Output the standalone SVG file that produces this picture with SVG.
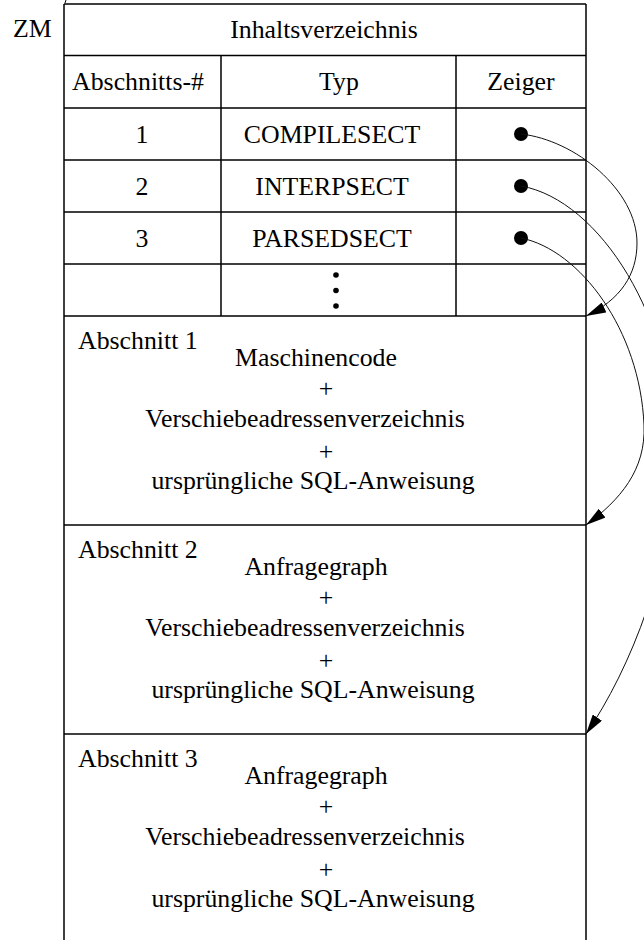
<svg xmlns="http://www.w3.org/2000/svg" width="644" height="940" viewBox="0 0 644 940">
  <style>
    .t { font-family: "Liberation Serif", "Times New Roman", serif; font-size: 25.8px; fill: #000; }
    .m { text-anchor: middle; }
    .ln { stroke: #000; stroke-width: 1.5; fill: none; }
    .cv { stroke: #111; stroke-width: 1; fill: none; marker-end: url(#ah); }
  </style>
  <defs>
    <marker id="ah" markerUnits="userSpaceOnUse" markerWidth="20" markerHeight="11" refX="20" refY="5.5" orient="auto">
      <path d="M0,0 L20,5.5 L0,11 z" fill="#000"/>
    </marker>
  </defs>
  <rect width="644" height="940" fill="#fff"/>

  <text class="t" x="13" y="37">ZM</text>
  <path d="M66,0 L65,3" stroke="#000" stroke-width="1"/>

  <g id="table">
    <path class="ln" d="M64,4 H586 M64,55.5 H586 M64,108 H586 M64,160 H586 M64,212 H586 M64,264 H586 M64,316 H586 M64,4 V940 M586,4 V940 M221,55.5 V316 M456,55.5 V316"/>
    <text class="t m" x="324" y="38">Inhaltsverzeichnis</text>
    <text class="t m" x="138" y="90">Abschnitts-#</text>
    <text class="t m" x="339" y="90">Typ</text>
    <text class="t m" x="521" y="90">Zeiger</text>
  </g>

  <g id="row1">
    <text class="t m" x="142" y="142.5">1</text>
    <text class="t m" x="332" y="142.5">COMPILESECT</text>
    <circle cx="521" cy="134" r="7" fill="#000"/>
  </g>
  <g id="row2">
    <text class="t m" x="142" y="194.5">2</text>
    <text class="t m" x="332" y="194.5">INTERPSECT</text>
    <circle cx="521" cy="186" r="7" fill="#000"/>
  </g>
  <g id="row3">
    <text class="t m" x="142" y="246.5">3</text>
    <text class="t m" x="332" y="246.5">PARSEDSECT</text>
    <circle cx="521" cy="238" r="7" fill="#000"/>
  </g>
  <g id="rowdots">
    <circle cx="336" cy="275" r="2.8" fill="#000"/>
    <circle cx="336" cy="290.5" r="2.8" fill="#000"/>
    <circle cx="336" cy="306" r="2.8" fill="#000"/>
  </g>

  <g id="abschnitt1">
    <path class="ln" d="M64,525 H586"/>
    <text class="t" x="78" y="349">Abschnitt 1</text>
    <text class="t m" x="316" y="366">Maschinencode</text>
    <text class="t m" x="326" y="397">+</text>
    <text class="t m" x="305" y="427">Verschiebeadressenverzeichnis</text>
    <text class="t m" x="326" y="460">+</text>
    <text class="t m" x="313" y="489">ursprüngliche SQL-Anweisung</text>
  </g>
  <g id="abschnitt2">
    <path class="ln" d="M64,734 H586"/>
    <text class="t" x="78" y="558">Abschnitt 2</text>
    <text class="t m" x="316" y="575">Anfragegraph</text>
    <text class="t m" x="326" y="606">+</text>
    <text class="t m" x="305" y="636">Verschiebeadressenverzeichnis</text>
    <text class="t m" x="326" y="669">+</text>
    <text class="t m" x="313" y="698">ursprüngliche SQL-Anweisung</text>
  </g>
  <g id="abschnitt3">
    <text class="t" x="78" y="767">Abschnitt 3</text>
    <text class="t m" x="316" y="784">Anfragegraph</text>
    <text class="t m" x="326" y="815">+</text>
    <text class="t m" x="305" y="845">Verschiebeadressenverzeichnis</text>
    <text class="t m" x="326" y="878">+</text>
    <text class="t m" x="313" y="907">ursprüngliche SQL-Anweisung</text>
  </g>

  <g id="connectors">
    <path class="cv" d="M521,134 C575,140 637,190 637,243 C637,275 620,300 586,316"/>
    <path class="cv" d="M521,186 C600,200 675,320 675,450 C675,560 630,670 586,734"/>
    <path class="cv" d="M521,238 C580,250 640,330 644,425 C646,470 620,500 586,525"/>
  </g>
</svg>
